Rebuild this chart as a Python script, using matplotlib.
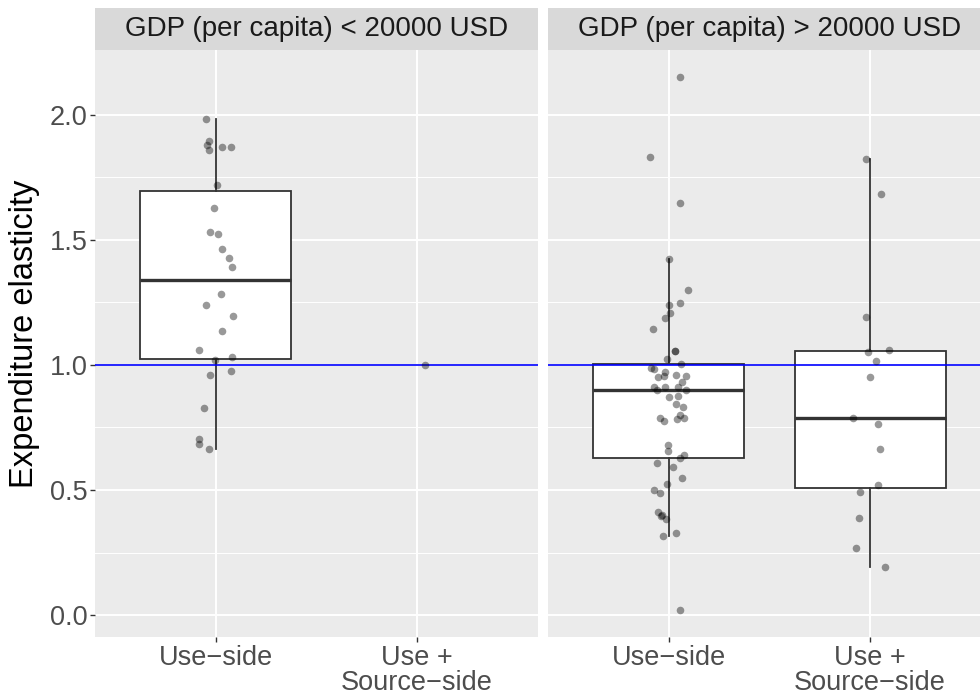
import matplotlib
matplotlib.use("Agg")
import matplotlib.pyplot as plt
import numpy as np

plt.rcParams['font.family'] = ['Liberation Sans', 'DejaVu Sans']

# facets and categories
panels = ["GDP (per capita) < 20000 USD", "GDP (per capita) > 20000 USD"]
categories = ["Use\u2212side", "Use +\nSource\u2212side"]

# low GDP, use-side
low_use = [1.984, 1.893, 1.879, 1.859, 1.872, 1.872, 1.719, 1.627, 1.531, 1.525,
           1.465, 1.427, 1.392, 1.285, 1.239, 1.196, 1.135, 1.059, 1.019, 1.033,
           0.976, 0.961, 0.829, 0.705, 0.683, 0.664]
low_use_jit = [-0.047, -0.034, -0.042, -0.034, 0.031, 0.074, 0.008, -0.010, -0.027, 0.013,
               0.031, 0.066, 0.078, 0.025, -0.050, 0.087, 0.029, -0.085, -0.005, 0.080,
               0.077, -0.031, -0.060, -0.086, -0.083, -0.034]
# low GDP, use + source-side
low_both = [1.0]
low_both_jit = [0.04]

# high GDP, use-side
high_use = [2.152, 1.832, 1.647, 1.423, 1.300, 1.249, 1.239, 1.209, 1.187, 1.145,
            1.056, 1.054, 1.024, 1.004,
            0.987, 0.983, 0.973, 0.952, 0.955, 0.961, 0.957, 0.931, 0.912, 0.899,
            0.911, 0.912, 0.899, 0.872, 0.875, 0.843, 0.832, 0.800, 0.789, 0.783,
            0.788, 0.776,
            0.681, 0.655, 0.640, 0.629, 0.608, 0.592, 0.548, 0.525, 0.499, 0.487,
            0.413, 0.397, 0.399, 0.385, 0.316, 0.327, 0.019]
high_use_jit = [0.056, -0.095, 0.054, -0.001, 0.097, 0.057, 0.000, 0.005, -0.021, -0.078,
                0.031, 0.033, -0.011, 0.059,
                -0.090, -0.076, -0.020, -0.054, -0.025, 0.034, 0.083, 0.067, -0.076, -0.060,
                -0.020, 0.044, 0.087, -0.001, 0.044, 0.038, 0.072, 0.057, 0.074, 0.043,
                -0.046, -0.023,
                -0.003, -0.003, 0.074, 0.056, -0.060, 0.022, 0.065, -0.008, -0.074, -0.046,
                -0.052, -0.037, -0.035, -0.016, -0.031, 0.038, 0.057]
# high GDP, use + source-side
high_both = [1.823, 1.684, 1.193, 1.053, 1.060, 1.016, 0.953, 0.788, 0.764, 0.665,
             0.521, 0.491, 0.388, 0.269, 0.193]
high_both_jit = [-0.022, 0.055, -0.020, -0.012, 0.091, 0.029, -0.003, -0.087, 0.040, 0.049,
                 0.040, -0.049, -0.057, -0.069, 0.074]

groups = [[(low_use, low_use_jit), (low_both, low_both_jit)],
          [(high_use, high_use_jit), (high_both, high_both_jit)]]

W, H = 980.0, 700.0
fig = plt.figure(figsize=(W / 100, H / 100), dpi=100)

allv = np.concatenate([low_use, low_both, high_use, high_both])
span = allv.max() - allv.min()
ylo, yhi = allv.min() - 0.05 * span, allv.max() + 0.05 * span

ink = "#333333"
lefts = [95, 548]
pw = 443
ptop, pbot = 50, 637

for p in range(2):
    ax = fig.add_axes([lefts[p] / W, (H - pbot) / H, pw / W, (pbot - ptop) / H])
    ax.set_facecolor("#EBEBEB")
    for s in ax.spines.values():
        s.set_visible(False)

    for i, (vals, jit) in enumerate(groups[p]):
        v = np.array(vals)
        if len(v) > 1:
            ax.boxplot(v, positions=[i + 1], widths=0.75, whis=1.5, patch_artist=True,
                       showfliers=False, showcaps=False,
                       boxprops=dict(facecolor="white", edgecolor=ink, linewidth=1.3),
                       medianprops=dict(color=ink, linewidth=2.4),
                       whiskerprops=dict(color=ink, linewidth=1.3), zorder=2)

    ax.axhline(1.0, color="blue", linewidth=1.2, zorder=3)

    for i, (vals, jit) in enumerate(groups[p]):
        ax.scatter(np.array(jit) + i + 1, vals, s=30, color="black", alpha=0.4,
                   linewidths=0, zorder=4)

    ax.set_xlim(0.4, 2.6)
    ax.set_ylim(ylo, yhi)
    ax.set_xticks([1, 2])
    ax.set_xticklabels(categories, linespacing=0.95)
    ax.set_yticks([0.0, 0.5, 1.0, 1.5, 2.0])
    ax.set_yticks([0.25, 0.75, 1.25, 1.75], minor=True)
    ax.grid(True, which="major", color="white", linewidth=1.4)
    ax.grid(True, which="minor", axis="y", color="white", linewidth=0.7)
    ax.tick_params(axis="y", which="minor", length=0)
    ax.set_axisbelow(True)
    ax.tick_params(which="major", length=3.5, width=1.0, color=ink,
                   labelsize=19.5, labelcolor="#4D4D4D", pad=2)
    if p == 0:
        ax.set_yticklabels(["0.0", "0.5", "1.0", "1.5", "2.0"])
        ax.set_ylabel("Expenditure elasticity", fontsize=23.5, color="black")
        ax.yaxis.set_label_coords(-0.124, 0.517)
    else:
        ax.set_yticklabels([])
        ax.tick_params(axis="y", length=0)

    sx = fig.add_axes([lefts[p] / W, (H - ptop) / H, pw / W, 42 / H])
    sx.set_facecolor("#D9D9D9")
    sx.set_xticks([])
    sx.set_yticks([])
    for s in sx.spines.values():
        s.set_visible(False)
    sx.text(0.5, 0.5, panels[p], ha="center", va="center", fontsize=20,
            color="#1A1A1A", transform=sx.transAxes)

fig.savefig("out.png", dpi=100)
